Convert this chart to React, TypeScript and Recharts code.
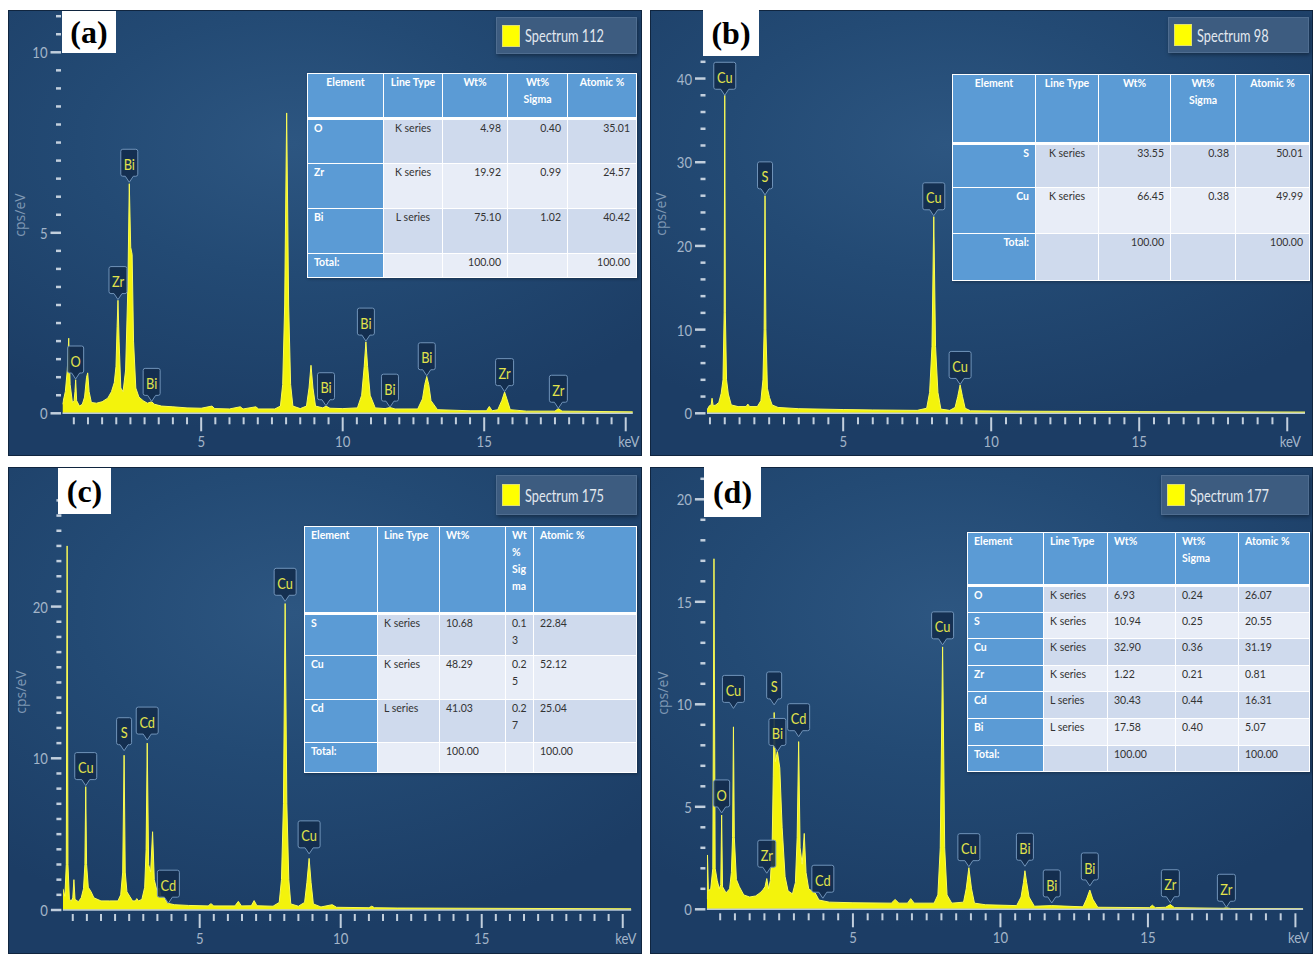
import React from 'react';
import { AreaChart, Area, XAxis, YAxis, ReferenceDot } from 'recharts';

const FONT = "Lato, Roboto, 'Liberation Sans', sans-serif";

// ---- (a) Spectrum 112 ----
const energyA = [0.1, 0.2, 0.27, 0.32, 0.37, 0.45, 0.51, 0.54, 0.565, 0.6,
  0.7, 0.8, 0.88, 0.95, 0.99, 1.04, 1.12, 1.3, 1.5, 1.7,
  1.83, 1.93, 1.99, 2.03, 2.06, 2.1, 2.16, 2.24, 2.33, 2.41,
  2.46, 2.51, 2.56, 2.61, 2.69, 2.8, 2.95, 3.1, 3.25, 3.35,
  3.6, 4.0, 4.5, 5.0, 5.38, 5.48, 6.0, 6.38, 6.48, 6.93,
  7.03, 7.6, 7.8, 7.88, 7.95, 8.02, 8.09, 8.16, 8.24, 8.5,
  8.72, 8.81, 8.88, 8.95, 9.04, 9.3, 9.41, 9.55, 10.0, 10.52,
  10.67, 10.76, 10.82, 10.88, 10.97, 11.15, 11.5, 11.67, 11.85, 12.65,
  12.82, 12.9, 12.97, 13.04, 13.12, 13.35, 14.5, 15.08, 15.18, 15.28,
  15.48, 15.62, 15.72, 15.8, 15.92, 16.5, 17.5, 17.62, 17.75, 20.25];
const countsA = [0.25, 0.6, 1.2, 2.08, 0.8, 0.3, 0.35, 0.6, 0.93, 0.35,
  0.2, 0.25, 0.45, 1.0, 1.12, 0.6, 0.3, 0.28, 0.32, 0.42,
  0.6, 0.85, 1.3, 2.4, 3.13, 2.0, 0.7, 0.6, 1.2, 3.5,
  6.36, 4.6, 4.4, 2.0, 0.7, 0.45, 0.35, 0.28, 0.32, 0.25,
  0.2, 0.18, 0.15, 0.14, 0.2, 0.13, 0.12, 0.18, 0.12, 0.18,
  0.12, 0.12, 0.2, 0.8, 3.0, 8.32, 3.0, 0.8, 0.2, 0.13,
  0.2, 0.7, 1.33, 0.7, 0.2, 0.15, 0.2, 0.14, 0.13, 0.15,
  0.5, 1.3, 1.98, 1.3, 0.5, 0.15, 0.13, 0.16, 0.12, 0.12,
  0.4, 0.8, 1.02, 0.8, 0.35, 0.1, 0.07, 0.07, 0.19, 0.07,
  0.1, 0.35, 0.59, 0.4, 0.1, 0.06, 0.06, 0.13, 0.06, 0.04];
const peakNamesA = ['O', 'Zr', 'Bi', 'Bi', 'Bi', 'Bi', 'Bi', 'Bi', 'Zr', 'Zr'];
const peakEnergyA = [0.565, 2.06, 2.46, 3.25, 9.41, 10.82, 11.67, 12.97, 15.72, 17.62];
const peakHeightA = [0.95, 3.15, 6.4, 0.33, 0.21, 2.0, 0.17, 1.04, 0.6, 0.14];
const elementsA = ['O', 'Zr', 'Bi'];
const lineTypesA = ['K series', 'K series', 'L series'];
const wtA = ['4.98', '19.92', '75.10'];
const sigmaA = ['0.40', '0.99', '1.02'];
const atomicA = ['35.01', '24.57', '40.42'];

// ---- (b) Spectrum 98 ----
const energyB = [0.4, 0.48, 0.54, 0.57, 0.61, 0.7, 0.8, 0.88, 0.94, 0.98,
  1.0, 1.02, 1.06, 1.12, 1.22, 1.45, 1.72, 1.78, 1.84, 2.1,
  2.22, 2.29, 2.33, 2.36, 2.39, 2.44, 2.51, 2.6, 2.8, 3.5,
  5.0, 6.0, 7.5, 7.82, 7.92, 8.0, 8.06, 8.12, 8.2, 8.3,
  8.6, 8.78, 8.87, 8.95, 9.03, 9.12, 9.3, 11.0, 15.0, 20.6];
const countsB = [0.4, 0.9, 1.0, 1.8, 0.9, 1.0, 1.3, 2.4, 4.0, 12,
  38.0, 12, 4.0, 2.3, 1.0, 0.8, 0.8, 1.1, 0.8, 0.8,
  1.5, 4.0, 10, 26.0, 10, 3.0, 1.9, 1.0, 0.7, 0.55,
  0.45, 0.4, 0.35, 0.6, 2.5, 8, 23.5, 8, 2.5, 0.5,
  0.35, 0.7, 2.0, 3.4, 2.0, 0.6, 0.3, 0.25, 0.2, 0.15];
const peakNamesB = ['Cu', 'S', 'Cu', 'Cu'];
const peakEnergyB = [1.0, 2.36, 8.06, 8.95];
const peakHeightB = [38.0, 26.1, 23.6, 3.45];
const elementsB = ['S', 'Cu'];
const lineTypesB = ['K series', 'K series'];
const wtB = ['33.55', '66.45'];
const sigmaB = ['0.38', '0.38'];
const atomicB = ['50.01', '49.99'];

// ---- (c) Spectrum 175 ----
const energyC = [0.15, 0.22, 0.27, 0.3, 0.33, 0.38, 0.45, 0.5, 0.54, 0.58,
  0.7, 0.8, 0.88, 0.93, 0.96, 0.99, 1.05, 1.15, 1.25, 1.5,
  1.8, 2.1, 2.2, 2.27, 2.32, 2.36, 2.42, 2.52, 2.62, 2.72,
  2.77, 2.83, 2.95, 3.05, 3.1, 3.14, 3.19, 3.26, 3.33, 3.39,
  3.48, 3.56, 3.63, 3.74, 3.85, 4.1, 4.6, 5.3, 5.4, 5.5,
  6.25, 6.37, 6.48, 6.83, 6.93, 7.03, 7.6, 7.82, 7.9, 7.97,
  8.03, 8.09, 8.16, 8.23, 8.5, 8.72, 8.8, 8.88, 8.95, 9.03,
  9.3, 9.7, 9.85, 11.0, 11.1, 11.2, 12.0, 20.3];
const countsC = [1.4, 0.9, 3, 24.0, 3, 0.7, 0.6, 0.8, 2.0, 0.7,
  0.55, 0.8, 1.4, 3.0, 8.13, 3.0, 1.5, 1.2, 0.8, 0.6,
  0.6, 0.6, 1.0, 2.5, 10.2, 2.5, 1.2, 0.9, 0.6, 0.6,
  0.75, 0.6, 0.7, 1.5, 4.0, 11.0, 3.0, 2.5, 5.16, 2.0,
  1.3, 1.45, 0.9, 0.8, 0.45, 0.35, 0.3, 0.27, 0.42, 0.27,
  0.27, 0.57, 0.27, 0.28, 0.62, 0.28, 0.25, 0.5, 2.0, 7.0,
  20.2, 7.0, 2.0, 0.4, 0.25, 0.5, 1.8, 3.4, 1.8, 0.4,
  0.2, 0.35, 0.18, 0.15, 0.25, 0.15, 0.13, 0.08];
const peakNamesC = ['Cu', 'S', 'Cd', 'Cd', 'Cu', 'Cu'];
const peakEnergyC = [0.96, 2.32, 3.14, 3.89, 8.03, 8.88];
const peakHeightC = [8.2, 10.5, 11.2, 0.45, 20.35, 3.7];
const elementsC = ['S', 'Cu', 'Cd'];
const lineTypesC = ['K series', 'K series', 'L series'];
const wtC = ['10.68', '48.29', '41.03'];
const sigmaC = ['0.13', '0.25', '0.27'];
const atomicC = ['22.84', '52.12', '25.04'];

// ---- (d) Spectrum 177 ----
const energyD = [0.05, 0.07, 0.1, 0.18, 0.25, 0.29, 0.33, 0.4, 0.47, 0.52,
  0.55, 0.58, 0.7, 0.82, 0.88, 0.92, 0.95, 0.98, 1.05, 1.15,
  1.3, 1.5, 1.7, 1.85, 1.95, 2.02, 2.08, 2.14, 2.2, 2.26,
  2.3, 2.33, 2.37, 2.44, 2.52, 2.6, 2.7, 2.8, 2.95, 3.05,
  3.11, 3.16, 3.21, 3.28, 3.35, 3.41, 3.5, 3.6, 3.72, 3.85,
  4.2, 5.0, 6.3, 6.43, 6.56, 6.85, 6.96, 7.08, 7.75, 7.88,
  7.96, 8.04, 8.11, 8.19, 8.35, 8.75, 8.84, 8.93, 9.02, 9.12,
  9.5, 10.55, 10.7, 10.78, 10.83, 10.89, 10.97, 11.15, 11.74, 12.8,
  12.92, 13.03, 13.13, 13.3, 15.05, 15.15, 15.25, 15.6, 15.76, 15.9,
  17.55, 17.66, 17.8, 20.26];
const countsD = [0.5, 2.65, 0.9, 1.0, 2.0, 17.1, 2.0, 1.4, 1.0, 1.2,
  4.6, 1.1, 0.8, 1.0, 1.8, 3.5, 8.9, 3.5, 1.45, 1.1,
  0.7, 0.6, 0.65, 0.8, 0.95, 1.1, 1.5, 1.0, 1.4, 3.0,
  6.5, 9.6, 7.2, 7.7, 6.9, 4.0, 1.6, 0.9, 0.75, 1.3,
  3.5, 8.18, 3.0, 2.2, 3.7, 1.8, 1.0, 0.9, 0.8, 0.45,
  0.35, 0.32, 0.3, 0.48, 0.3, 0.3, 0.52, 0.3, 0.3, 0.7,
  3.0, 12.8, 3.0, 0.7, 0.3, 0.35, 1.0, 2.03, 1.0, 0.3,
  0.22, 0.18, 0.6, 1.3, 1.88, 1.3, 0.6, 0.15, 0.18, 0.12,
  0.5, 0.94, 0.5, 0.1, 0.08, 0.2, 0.08, 0.1, 0.23, 0.08,
  0.05, 0.07, 0.04, 0.03];
const peakNamesD = ['O', 'Cu', 'S', 'Bi', 'Zr', 'Cd', 'Cd', 'Cu', 'Cu', 'Bi', 'Bi', 'Bi', 'Zr', 'Zr'];
const peakEnergyD = [0.55, 0.95, 2.33, 2.44, 2.08, 3.16, 3.98, 8.04, 8.93, 10.83, 11.74, 13.03, 15.76, 17.66];
const peakHeightD = [4.7, 9.8, 9.97, 7.7, 1.76, 8.42, 0.54, 12.9, 2.08, 2.1, 0.31, 1.14, 0.32, 0.1];
const elementsD = ['O', 'S', 'Cu', 'Zr', 'Cd', 'Bi'];
const lineTypesD = ['K series', 'K series', 'K series', 'K series', 'L series', 'L series'];
const wtD = ['6.93', '10.94', '32.90', '1.22', '30.43', '17.58'];
const sigmaD = ['0.24', '0.25', '0.36', '0.21', '0.44', '0.40'];
const atomicD = ['26.07', '20.55', '31.19', '0.81', '16.31', '5.07'];

const totalWt = '100.00';
const totalAtomic = '100.00';

const steps = (from: number, to: number, step: number) => {
  const out: number[] = [];
  for (let v = from; v <= to + 1e-9; v += step) out.push(Math.round(v * 100) / 100);
  return out;
};
const xTicks = steps(0.5, 20, 0.5);

const toRows = (e: number[], c: number[]) => e.map((x, i) => ({ e: x, c: c[i] }));
const toPeaks = (n: string[], e: number[], c: number[]) => n.map((name, i) => ({ name, e: e[i], c: c[i] }));

const calloutWidth: Record<string, number> = { O: 16, S: 15, Bi: 17, Zr: 18, Cu: 22, Cd: 22 };

const Callout = ({ cx, cy, text }: any) => {
  if (cx == null || cy == null) return null;
  const w = calloutWidth[text] || 20;
  const h = 27;
  const p = 6;
  const r = 2;
  const t = cy - p - h;
  const l = cx - w / 2;
  const d = `M${l + r},${t} H${l + w - r} Q${l + w},${t} ${l + w},${t + r} V${t + h - r} Q${l + w},${t + h} ${l + w - r},${t + h}`
    + ` H${cx + 4} L${cx},${cy} L${cx - 4},${t + h} H${l + r} Q${l},${t + h} ${l},${t + h - r} V${t + r} Q${l},${t} ${l + r},${t} Z`;
  return (
    <g>
      <path d={d} fill="#132c4c" fillOpacity={0.9} stroke="#7093b9" strokeWidth={1} />
      <text transform={`translate(${cx},${t + h / 2 + 1}) scale(0.8,1)`} textAnchor="middle" dominantBaseline="central"
        fill="#e1e34c" fontSize={16} fontFamily={FONT}>{text}</text>
    </g>
  );
};

const XTick = ({ x, y, payload }: any) => {
  const v = payload.value;
  const major = Math.abs(v % 5) < 1e-6;
  return (
    <g>
      <line x1={x} x2={x} y1={y + 4} y2={y + (major ? 18 : 11)} stroke="#c2cfdd" strokeWidth={2} />
      {major && (
        <text transform={`translate(${v === 20 ? x + 3 : x},${y + 34}) scale(0.82,1)`} textAnchor="middle"
          fill="#a3b5c9" fontSize={16} fontFamily={FONT}>
          {v === 20 ? 'keV' : v}
        </text>
      )}
    </g>
  );
};

const YTick = ({ x, y, payload, major }: any) => {
  const v = payload.value;
  const isMajor = Math.abs(v % major) < 1e-6;
  return (
    <g>
      <line x1={x - (isMajor ? 12 : 6.5)} x2={x - 1.5} y1={y} y2={y} stroke="#c2cfdd" strokeWidth={2.5} />
      {isMajor && (
        <text transform={`translate(${x - 15},${y}) scale(0.82,1)`} textAnchor="end" dominantBaseline="central"
          fill="#a3b5c9" fontSize={16} fontFamily={FONT}>{v}</text>
      )}
    </g>
  );
};

const HEAD = '#5b9bd5';
const BAND = ['#cfdaed', '#e8edf7'];

const lines = (s: string) => s.split('|').map((t, i) => (
  <React.Fragment key={i}>{i > 0 && <br />}{t}</React.Fragment>
));

function DataTable({ t }: any) {
  const width = t.cols.reduce((a: number, b: number) => a + b, 0);
  const cell = (bg: string, extra: any = {}) => ({
    background: bg, border: '1px solid #ffffff', padding: '0 6px', verticalAlign: 'top', overflow: 'hidden', whiteSpace: 'nowrap', ...extra,
  });
  const head = { color: '#ffffff', fontWeight: 700, textAlign: t.headAlign };
  const body = { color: '#333333', textAlign: t.valAlign };
  const rows = t.elements.map((el: string, i: number) => [el, t.lineTypes[i], t.wt[i], t.sigma[i], t.atomic[i]]);
  rows.push(['Total:', '', totalWt, '', totalAtomic]);
  return (
    <table style={{ position: 'absolute', left: t.left, top: t.top, width, borderCollapse: 'collapse', tableLayout: 'fixed', fontFamily: FONT, fontSize: 10.5, lineHeight: '17px', boxShadow: '1px 1px 3px rgba(0,0,0,0.3)' }}>
      <colgroup>{t.cols.map((w: number, i: number) => <col key={i} style={{ width: w }} />)}</colgroup>
      <tbody>
        <tr style={{ height: t.headH }}>
          {t.header.map((h: string, i: number) => (
            <td key={i} style={cell(HEAD, { ...head, padding: i === 3 && t.wrapSigma ? '0 2px 0 6px' : '0 6px', borderBottom: '3px solid #ffffff' })}>{lines(h)}</td>
          ))}
        </tr>
        {rows.map((r: string[], ri: number) => (
          <tr key={ri} style={{ height: t.rowH[ri] }}>
            {r.map((v, ci) => {
              if (ci === 0) return <td key={ci} style={cell(HEAD, { color: '#ffffff', fontWeight: 700, textAlign: t.elemAlign })}>{v}</td>;
              const align = ci === 1 ? t.lineAlign : t.valAlign;
              const txt = ci === 3 && t.wrapSigma && v ? v.slice(0, 3) + '|' + v.slice(3) : v;
              return <td key={ci} style={cell(BAND[ri % 2], { ...body, textAlign: align, padding: ci === 3 && t.wrapSigma ? '0 2px 0 6px' : '0 6px' })}>{lines(txt)}</td>;
            })}
          </tr>
        ))}
      </tbody>
    </table>
  );
}

const BG = 'radial-gradient(ellipse 75% 65% at 45% 30%, #2d5681 0%, #234a74 45%, #1c3d65 100%)';

function Panel({ p }: any) {
  const yTicks = steps(0, p.yDomain[1], p.yStep);
  return (
    <div style={{ position: 'absolute', left: p.left, top: p.top, width: p.width, height: p.height, background: BG, overflow: 'hidden', boxShadow: 'inset 0 0 0 1px #10253f' }}>
      <AreaChart width={p.width} height={p.height} data={p.data} margin={{ top: p.mTop, right: p.mRight, left: 0, bottom: 0 }}>
        <XAxis dataKey="e" type="number" domain={p.xDomain} allowDataOverflow ticks={xTicks} interval={0}
          tickSize={0} tickMargin={0} tickLine={false} axisLine={{ stroke: '#b9c8d8', strokeWidth: 1.5 }}
          height={p.xAxisH} tick={(tp: any) => <XTick {...tp} />} />
        <YAxis type="number" domain={p.yDomain} allowDataOverflow ticks={yTicks} interval={0}
          tickSize={0} tickMargin={0} tickLine={false} axisLine={false} width={p.yAxisW}
          tick={(tp: any) => <YTick {...tp} major={p.yMajor} />} />
        <Area type="linear" dataKey="c" stroke="#fbfb55" strokeWidth={1} fill="#f3f30c" fillOpacity={1}
          isAnimationActive={false} dot={false} activeDot={false} />
        {p.peaks.map((pk: any, i: number) => (
          <ReferenceDot key={i} x={pk.e} y={pk.c} r={0} ifOverflow="visible"
            shape={(sp: any) => <Callout cx={sp.cx} cy={sp.cy} text={pk.name} />} />
        ))}
      </AreaChart>
      <div style={{ position: 'absolute', left: p.titleX - 30, top: p.titleY - 9, width: 60, height: 18, transform: 'rotate(-90deg)', textAlign: 'center', color: '#7f98b4', fontSize: 14, fontFamily: "'Open Sans', sans-serif", lineHeight: '18px' }}>cps/eV</div>
      <div style={{ position: 'absolute', ...p.letterBox, background: '#ffffff', display: 'flex', alignItems: 'center', justifyContent: 'center', fontFamily: "'Liberation Serif', 'Times New Roman', serif", fontWeight: 700, fontSize: 32, color: '#000' }}>{p.letter}</div>
      <div style={{ position: 'absolute', ...p.legendBox, background: '#3d5c80', boxShadow: '1px 2px 4px rgba(0,0,0,0.35)', border: '1px solid #4f6d90', boxSizing: 'border-box', display: 'flex', alignItems: 'center' }}>
        <div style={{ width: 16, height: 20, marginLeft: 5, background: '#ffff00', border: '1px solid #e0e070', flex: 'none' }} />
        <span style={{ display: 'inline-block', marginLeft: 5, color: '#e2e8ef', fontSize: 17, fontFamily: FONT, transform: 'scaleX(0.75)', transformOrigin: 'left center', whiteSpace: 'nowrap' }}>{p.spectrum}</span>
      </div>
      <DataTable t={p.table} />
    </div>
  );
}

const stdHeader = ['Element', 'Line Type', 'Wt%', 'Wt%|Sigma', 'Atomic %'];

const panels = [
  {
    left: 8, top: 10, width: 634, height: 446, mTop: 6.2, mRight: 9.2, yAxisW: 54.5, xAxisH: 42.7,
    xDomain: [0.1, 20.25], yDomain: [0, 11], yStep: 0.5, yMajor: 5,
    data: toRows(energyA, countsA), peaks: toPeaks(peakNamesA, peakEnergyA, peakHeightA),
    letter: '(a)', spectrum: 'Spectrum 112', titleX: 12, titleY: 205,
    letterBox: { left: 54, top: 1, width: 54, height: 42 },
    legendBox: { left: 488, top: 7, width: 141, height: 37 },
    table: {
      left: 299, top: 63, cols: [76, 59, 65, 60, 69], headH: 45, rowH: [45, 45, 45, 24],
      header: stdHeader, headAlign: 'center', elemAlign: 'left', lineAlign: 'center', valAlign: 'right',
      elements: elementsA, lineTypes: lineTypesA, wt: wtA, sigma: sigmaA, atomic: atomicA,
    },
  },
  {
    left: 650, top: 10, width: 663, height: 446, mTop: 51.8, mRight: 8, yAxisW: 57, xAxisH: 42.7,
    xDomain: [0.4, 20.6], yDomain: [0, 42], yStep: 2, yMajor: 10,
    data: toRows(energyB, countsB), peaks: toPeaks(peakNamesB, peakEnergyB, peakHeightB),
    letter: '(b)', spectrum: 'Spectrum 98', titleX: 11, titleY: 204,
    letterBox: { left: 53, top: 0, width: 56, height: 46 },
    legendBox: { left: 518, top: 7, width: 141, height: 36 },
    table: {
      left: 302, top: 64, cols: [83, 63, 72, 65, 74], headH: 69, rowH: [44, 46, 47],
      header: stdHeader, headAlign: 'center', elemAlign: 'right', lineAlign: 'center', valAlign: 'right',
      elements: elementsB, lineTypes: lineTypesB, wt: wtB, sigma: sigmaB, atomic: atomicB,
    },
  },
  {
    left: 8, top: 467, width: 634, height: 487, mTop: 33.4, mRight: 10.8, yAxisW: 54.9, xAxisH: 44,
    xDomain: [0.15, 20.3], yDomain: [0, 27], yStep: 1, yMajor: 10,
    data: toRows(energyC, countsC), peaks: toPeaks(peakNamesC, peakEnergyC, peakHeightC),
    letter: '(c)', spectrum: 'Spectrum 175', titleX: 13, titleY: 225,
    letterBox: { left: 50, top: 1, width: 53, height: 46 },
    legendBox: { left: 488, top: 8, width: 141, height: 40 },
    table: {
      left: 296, top: 59, cols: [73, 62, 66, 28, 103], headH: 87, rowH: [42, 44, 43, 30],
      header: ['Element', 'Line Type', 'Wt%', 'Wt|%|Sig|ma', 'Atomic %'], headAlign: 'left', elemAlign: 'left', lineAlign: 'left', valAlign: 'left',
      wrapSigma: true,
      elements: elementsC, lineTypes: lineTypesC, wt: wtC, sigma: sigmaC, atomic: atomicC,
    },
  },
  {
    left: 650, top: 467, width: 663, height: 487, mTop: 11.8, mRight: 9.9, yAxisW: 56.9, xAxisH: 44.7,
    xDomain: [0.05, 20.26], yDomain: [0, 21], yStep: 1, yMajor: 5,
    data: toRows(energyD, countsD), peaks: toPeaks(peakNamesD, peakEnergyD, peakHeightD),
    letter: '(d)', spectrum: 'Spectrum 177', titleX: 13, titleY: 226,
    letterBox: { left: 54, top: 0, width: 57, height: 50 },
    legendBox: { left: 511, top: 8, width: 148, height: 40 },
    table: {
      left: 317, top: 65, cols: [76, 64, 68, 63, 71], headH: 53, rowH: [26.6, 26.6, 26.6, 26.6, 26.6, 26.6, 26.6],
      header: stdHeader, headAlign: 'left', elemAlign: 'left', lineAlign: 'left', valAlign: 'left',
      elements: elementsD, lineTypes: lineTypesD, wt: wtD, sigma: sigmaD, atomic: atomicD,
    },
  },
];

export default function App() {
  return (
    <div style={{ position: 'absolute', left: 0, top: 0, width: 1313, height: 954, background: '#ffffff', overflow: 'hidden' }}>
      {panels.map((p, i) => <Panel key={i} p={p} />)}
    </div>
  );
}
